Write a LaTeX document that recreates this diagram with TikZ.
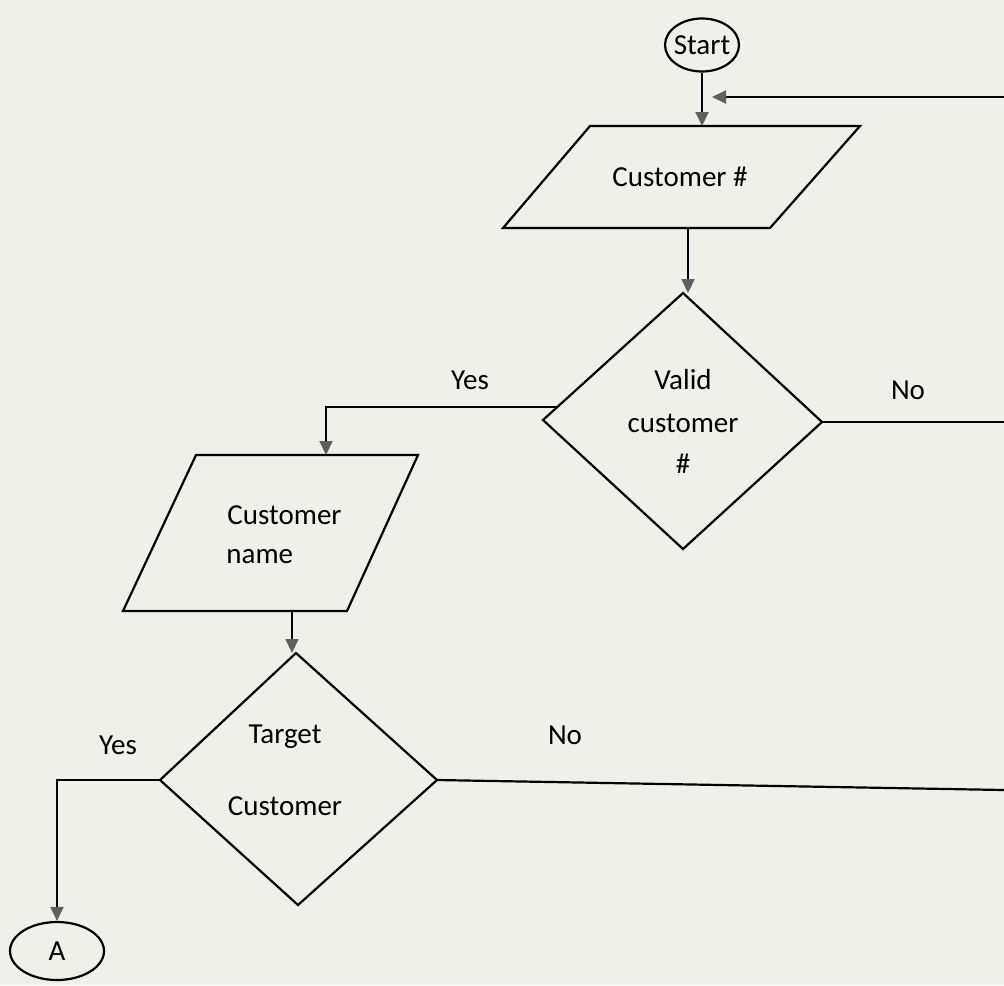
\documentclass[tikz,border=0pt]{standalone}
\usepackage{fontspec}
\setmainfont{Carlito}
\usetikzlibrary{shapes.geometric,arrows.meta,calc}
\definecolor{paper}{RGB}{240,240,235}
\definecolor{tipgray}{RGB}{95,95,95}
\begin{document}
\begin{tikzpicture}[x=0.5pt,y=-0.5pt,
  outline/.style={draw=black,line width=1.1pt,line join=miter},
  link/.style={draw=black,line width=1pt,-{Triangle[length=7pt,width=6.5pt,color=tipgray]}},
  plain/.style={draw=black,line width=1.1pt},
  txt/.style={font=\fontsize{14.5}{17}\selectfont,inner sep=0pt},
  terminal/.style={ellipse,outline,inner sep=0pt}]
% page
\fill[paper] (0,0) rectangle (1004,985);
\useasboundingbox (0,0) rectangle (1004,985);

% start terminal
\node[terminal,minimum width=37pt,minimum height=26.5pt] (start) at (702,45) {};
\node[txt] (starttxt) at (702,45) {Start};

% input: customer number
\coordinate (p1a) at (590,126);
\coordinate (p1b) at (860,126);
\coordinate (p1c) at (770,228);
\coordinate (p1d) at (503,228);
\draw[outline] (p1a) -- (p1b) -- (p1c) -- (p1d) -- cycle;
\node[txt] (p1) at (680,177) {Customer \#};

% decision: valid customer number
\coordinate (v1t) at (683,293);
\coordinate (v1r) at (822,422);
\coordinate (v1b) at (683,549);
\coordinate (v1l) at (543,420);
\draw[outline] (v1t) -- (v1r) -- (v1b) -- (v1l) -- cycle;
\node[txt] (v1a) at (683,380) {Valid};
\node[txt] (v1m) at (683,423) {customer};
\node[txt] (v1z) at (683,464) {\#};

% input: customer name
\coordinate (p2a) at (196,455);
\coordinate (p2b) at (418,455);
\coordinate (p2c) at (347,611);
\coordinate (p2d) at (123,611);
\draw[outline] (p2a) -- (p2b) -- (p2c) -- (p2d) -- cycle;
\node[txt,anchor=west] (p2x) at (227,515) {Customer};
\node[txt,anchor=west] (p2y) at (226,557) {name};

% decision: target customer
\coordinate (t1t) at (296,653);
\coordinate (t1r) at (437,780);
\coordinate (t1b) at (298,905);
\coordinate (t1l) at (160,780);
\draw[outline] (t1t) -- (t1r) -- (t1b) -- (t1l) -- cycle;
\node[txt] (t1a) at (285,737) {Target};
\node[txt] (t1m) at (285,806) {Customer};

% connector A
\node[terminal,minimum width=47pt,minimum height=29pt] (conA) at (57,951) {};
\node[txt] (conAtxt) at (57,951) {A};

% loose ends at the right border
\coordinate (back) at (1004,97);
\coordinate (backtip) at (712,97);
\coordinate (noout1) at (1004,422);
\coordinate (noout2) at (1004,790);
\coordinate (p1in) at (702,126);
\coordinate (p1out) at (688,228);
\coordinate (p2in) at (326,455);
\coordinate (p2out) at (292,611);
\coordinate (v1y) at ($(v1l)!0.1!(v1t)$);

% connectors
\draw[link] (start.south) -- (p1in);
\draw[link] (back) -- (backtip);
\draw[link] (p1out) -- (p1out |- v1t);
\draw[plain] (v1r) -- (noout1);
\draw[link] (v1y) -| (p2in);
\draw[link] (p2out) -- (p2out |- t1t);
\draw[plain] (t1r) -- (noout2);
\draw[link] (t1l) -| (conA.north);

% branch labels
\node[txt] (yes1) at (470,380) {Yes};
\node[txt] (no1) at (908,390) {No};
\node[txt] (yes2) at (118,745) {Yes};
\node[txt] (no2) at (565,735) {No};
\end{tikzpicture}
\end{document}
